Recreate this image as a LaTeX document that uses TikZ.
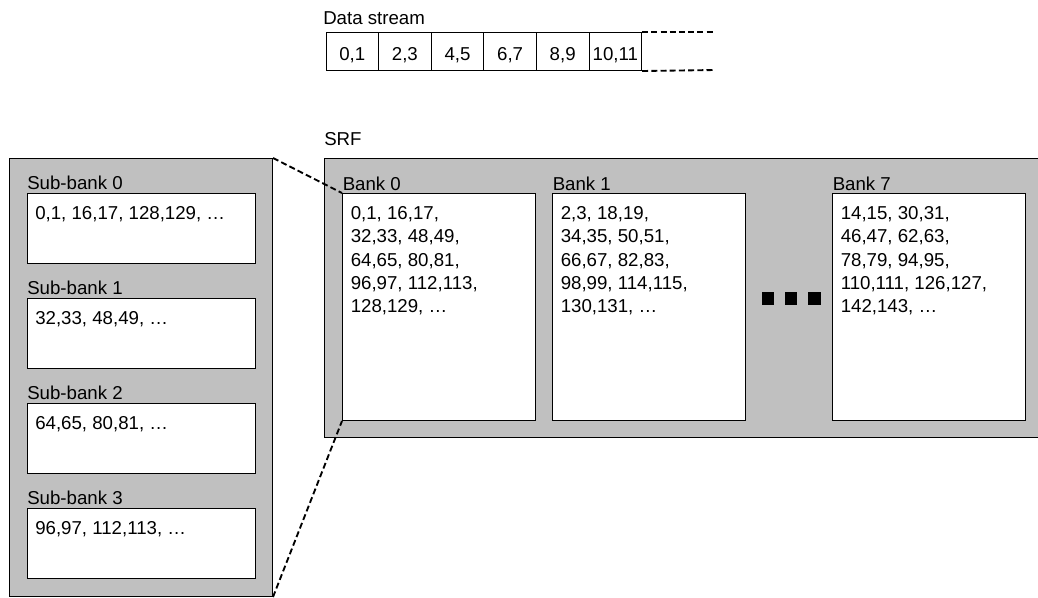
\documentclass[tikz,border=0pt]{standalone}
\usepackage{fontspec}
\setmainfont{Liberation Sans}
\definecolor{srfgray}{HTML}{C0C0C0}
\begin{document}
\begin{tikzpicture}[x=0.75pt,y=-0.75pt,
  font=\fontsize{14pt}{17.5pt}\selectfont,
  panel/.style={draw=black,line width=0.75pt,fill=srfgray,rectangle,inner sep=0pt,anchor=north west},
  wbox/.style={draw=black,line width=0.75pt,fill=white,rectangle,inner sep=0pt,anchor=north west},
  subbox/.style={wbox,minimum width=171pt,minimum height=52.5pt},
  bankbox/.style={wbox,minimum width=144.75pt,minimum height=170.25pt},
  cell/.style={draw=black,line width=0.75pt,rectangle,inner sep=0pt,minimum width=39.45pt,minimum height=28.5pt,anchor=north west,text height=13pt,text depth=0pt},
  lbl/.style={anchor=base west,inner sep=0pt},
  vals/.style={anchor=north west,inner sep=0pt,align=left},
  link/.style={draw=black,line width=1.4pt,dash pattern=on 4.5pt off 2.4pt},
  sq/.style={fill=black,rectangle,inner sep=0pt,minimum size=9.4pt}]
\useasboundingbox (0,0) rectangle (1038,597);

% Data stream
\node[lbl] (dslbl) at (323,24.5) {Data stream};
\node[cell] (c0) at (325.5,32) {0,1};
\node[cell] (c1) at (378.1,32) {2,3};
\node[cell] (c2) at (430.7,32) {4,5};
\node[cell] (c3) at (483.3,32) {6,7};
\node[cell] (c4) at (535.9,32) {8,9};
\node[cell] (c5) at (588.5,32) {10,11};
\coordinate (dsT) at (715,32);
\coordinate (dsB) at (715,70);
\draw[link] (c5.north east) -- (dsT);
\draw[link] (c5.south east) -- (dsB);

% SRF
\node[lbl] (srflbl) at (324,145) {SRF};
\node[panel,minimum width=540.75pt,minimum height=209.25pt] (srf) at (324,158) {};

\node[bankbox] (b0) at (342,193) {};
\node[bankbox] (b1) at (552,193) {};
\node[bankbox] (b7) at (832,193) {};
\node[lbl] (b0l) at (342.5,190) {Bank 0};
\node[lbl] (b1l) at (552.5,190) {Bank 1};
\node[lbl] (b7l) at (832.5,190) {Bank 7};
\node[vals] (b0v) at (350.5,206.3) {0,1, 16,17,\\32,33, 48,49,\\64,65, 80,81,\\96,97, 112,113,\\128,129, \dots};
\node[vals] (b1v) at (560.5,206.3) {2,3, 18,19,\\34,35, 50,51,\\66,67, 82,83,\\98,99, 114,115,\\130,131, \dots};
\node[vals] (b7v) at (840.5,206.3) {14,15, 30,31,\\46,47, 62,63,\\78,79, 94,95,\\110,111, 126,127,\\142,143, \dots};

\node[sq] (s1) at (768,298.5) {};
\node[sq] (s2) at (791,298.5) {};
\node[sq] (s3) at (814.5,298.5) {};

% Left panel: sub-banks
\node[panel,minimum width=197.25pt,minimum height=328.5pt] (lp) at (9,158) {};
\node[subbox] (sb0) at (27,193) {};
\node[subbox] (sb1) at (27,298) {};
\node[subbox] (sb2) at (27,403) {};
\node[subbox] (sb3) at (27,508) {};
\node[lbl] (sb0l) at (27,189.5) {Sub-bank 0};
\node[lbl] (sb1l) at (27,294.5) {Sub-bank 1};
\node[lbl] (sb2l) at (27,399.5) {Sub-bank 2};
\node[lbl] (sb3l) at (27,504.5) {Sub-bank 3};
\node[vals] (sb0v) at (35,206.3) {0,1, 16,17, 128,129, \dots};
\node[vals] (sb1v) at (35,311.3) {32,33, 48,49, \dots};
\node[vals] (sb2v) at (35,416.3) {64,65, 80,81, \dots};
\node[vals] (sb3v) at (35,521.3) {96,97, 112,113, \dots};

% zoom connectors
\draw[link] (lp.north east) -- (b0.north west);
\draw[link] (lp.south east) -- (b0.south west);
\end{tikzpicture}
\end{document}
